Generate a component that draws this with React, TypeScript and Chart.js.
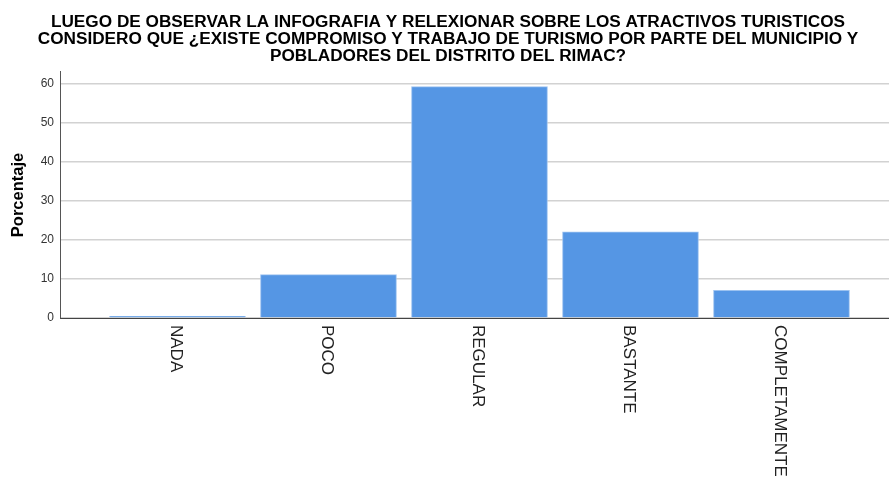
import React, { useEffect, useRef } from 'react';
import { Chart, registerables } from 'chart.js';

Chart.register(...registerables);

const categories = ['NADA', 'POCO', 'REGULAR', 'BASTANTE', 'COMPLETAMENTE'];
const percentages = [0.4, 11.1, 59.3, 22.1, 7.1];
const yTickValues = [0, 10, 20, 30, 40, 50, 60];
const titleLines = [
  'LUEGO DE OBSERVAR LA INFOGRAFIA Y RELEXIONAR SOBRE LOS ATRACTIVOS TURISTICOS',
  'CONSIDERO QUE ¿EXISTE COMPROMISO Y TRABAJO DE TURISMO POR PARTE DEL MUNICIPIO Y',
  'POBLADORES DEL DISTRITO DEL RIMAC?',
];
const yTitle = 'Porcentaje';

const FONT = '"Liberation Sans", Arial, Helvetica, sans-serif';

export default function App() {
  const ref = useRef<HTMLCanvasElement>(null);

  useEffect(() => {
    const canvas = ref.current;
    if (!canvas) return;

    const overlay = {
      id: 'overlay',
      afterDraw(chart: any) {
        const c = chart.ctx as CanvasRenderingContext2D;
        c.save();
        // Title (slightly widened horizontally)
        c.fillStyle = '#000';
        c.font = `bold 16px ${FONT}`;
        c.textAlign = 'center';
        c.textBaseline = 'alphabetic';
        titleLines.forEach((t, i) => {
          c.save();
          c.translate(448, 26.8 + i * 17);
          c.scale(1.075, 1);
          c.fillText(t, 0, 0);
          c.restore();
        });
        // Y title
        c.save();
        c.translate(18, 195);
        c.rotate(-Math.PI / 2);
        c.textAlign = 'center';
        c.textBaseline = 'middle';
        c.font = `bold 16.5px ${FONT}`;
        c.fillText(yTitle, 0, 0);
        c.restore();
        // X labels rotated clockwise
        const xs = chart.scales.x;
        c.font = `17px ${FONT}`;
        c.fillStyle = '#222';
        categories.forEach((lab, i) => {
          const px = xs.getPixelForValue(i);
          c.save();
          c.translate(px - 2, 325);
          c.rotate(Math.PI / 2);
          c.textAlign = 'left';
          c.textBaseline = 'middle';
          c.fillText(lab, 0, 0);
          c.restore();
        });
        c.restore();
      },
    };

    const chart = new Chart(canvas, {
      type: 'bar',
      data: {
        datasets: [
          {
            data: percentages.map((v, i) => ({ x: i, y: v })),
            backgroundColor: '#5596e4',
            borderColor: '#9cc2f0',
            borderWidth: 1,
            barThickness: 136,
          },
        ],
      },
      options: {
        responsive: false,
        animation: false,
        layout: { padding: { top: 71, left: 0, right: 0, bottom: 0 } },
        plugins: {
          legend: { display: false },
          tooltip: { enabled: false },
          title: { display: false },
        },
        scales: {
          x: {
            type: 'linear',
            min: -0.778,
            max: 4.712,
            offset: false,
            grid: { display: false },
            ticks: { display: false },
            border: { display: true, color: '#444', width: 1 },
            afterFit: (s: any) => {
              s.height = 160;
            },
          },
          y: {
            min: 0,
            max: 63.3,
            afterBuildTicks: (s: any) => {
              s.ticks = yTickValues.map((v) => ({ value: v }));
            },
            grid: { color: '#d2d2d2', lineWidth: 1.5, drawTicks: false },
            border: { display: true, color: '#555', width: 1 },
            ticks: {
              padding: 6,
              color: '#333',
              font: { family: FONT, size: 12 },
            },
            afterFit: (s: any) => {
              s.width = 60;
            },
          },
        },
      },
      plugins: [overlay],
    } as any);

    return () => chart.destroy();
  }, []);

  return (
    <div style={{ position: 'absolute', left: 0, top: 0, width: 889, height: 478, background: '#fff' }}>
      <canvas ref={ref} width={889} height={478} />
    </div>
  );
}
